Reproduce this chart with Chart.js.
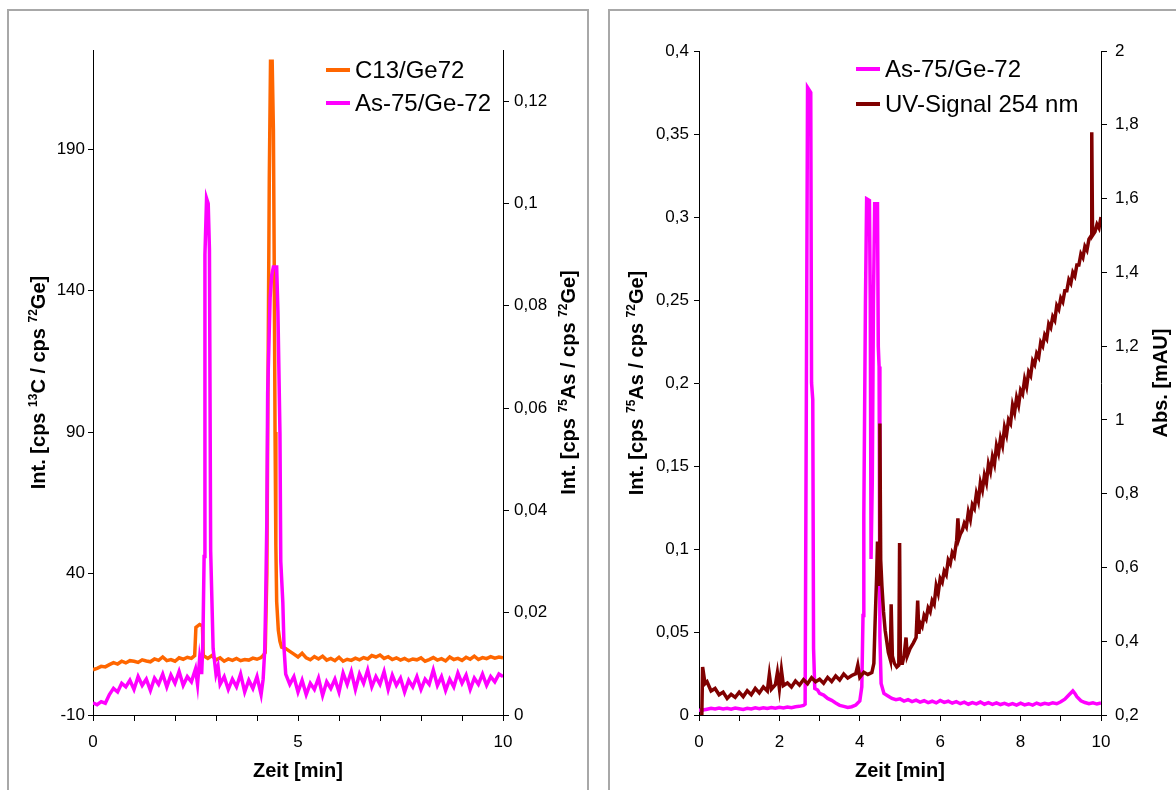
<!DOCTYPE html>
<html>
<head>
<meta charset="utf-8">
<script src="https://cdn.jsdelivr.net/npm/chart.js@4.4.0/dist/chart.umd.min.js"></script>
<style>
  body { margin: 0; background: #fff; width: 1176px; height: 790px; overflow: hidden; position: relative; }
  .panel { position: absolute; border: 2px solid #a8a8a8; box-sizing: border-box; }
  .wrap { position: absolute; top: 0; height: 790px; }
</style>
</head>
<body>
<div class="panel" style="left:7px; top:9px; width:582px; height:800px"></div>
<div class="panel" style="left:608px; top:9px; width:600px; height:800px"></div>
<div class="wrap" style="left:0; width:590px"><canvas id="chartLeft"></canvas></div>
<div class="wrap" style="left:590px; width:586px"><canvas id="chartRight"></canvas></div>
<script>
// left panel: 13C and 75As signals, [time (min), ratio]
const c13Trace = [
  [0, 6.0], [0.1, 6.5], [0.2, 7.2], [0.3, 7.0], [0.4, 7.8], [0.5, 8.5], [0.6, 8.0], [0.7, 9.0], [0.8, 8.4], [0.9, 9.2],
  [1.0, 9.0], [1.1, 8.6], [1.2, 9.5], [1.3, 9.1], [1.4, 8.8], [1.5, 9.8], [1.6, 9.3], [1.7, 10.5], [1.8, 9.2], [1.9, 9.6],
  [2.0, 9.0], [2.1, 10.2], [2.2, 9.7], [2.3, 10.4], [2.4, 10.0], [2.48, 11.0], [2.51, 21.0], [2.6, 22.0], [2.67, 21.5], [2.69, 11.0],
  [2.8, 10.0], [2.9, 11.0], [3.0, 9.5], [3.1, 10.2], [3.2, 9.0], [3.3, 9.8], [3.4, 9.3], [3.5, 10.0], [3.6, 9.2], [3.7, 9.6],
  [3.8, 9.4], [3.9, 10.1], [4.0, 9.7], [4.1, 10.3], [4.15, 11.0], [4.2, 12.0],
  [4.24, 40], [4.27, 110], [4.30, 180], [4.33, 221], [4.37, 221], [4.40, 197], [4.42, 150], [4.44, 90], [4.46, 50], [4.48, 30],
  [4.52, 20], [4.56, 16], [4.6, 14], [4.7, 13.5], [4.8, 12.5], [4.9, 11.5],
  [5.0, 10.5], [5.1, 11.8], [5.2, 10.2], [5.3, 9.5], [5.4, 10.6], [5.5, 9.8], [5.6, 10.8], [5.7, 9.4], [5.8, 10.0], [5.9, 9.2],
  [6.0, 10.4], [6.1, 9.0], [6.2, 9.7], [6.3, 9.3], [6.4, 10.1], [6.5, 9.5], [6.6, 10.3], [6.7, 9.8], [6.8, 11.0], [6.9, 10.5],
  [7.0, 11.2], [7.1, 10.0], [7.2, 10.6], [7.3, 9.6], [7.4, 10.2], [7.5, 9.4], [7.6, 10.0], [7.7, 9.2], [7.8, 9.8], [7.9, 9.5],
  [8.0, 10.2], [8.1, 9.0], [8.2, 9.6], [8.3, 10.3], [8.4, 9.4], [8.5, 9.9], [8.6, 9.1], [8.7, 10.5], [8.8, 9.6], [8.9, 10.0],
  [9.0, 9.3], [9.1, 10.4], [9.2, 9.7], [9.3, 10.8], [9.4, 9.6], [9.5, 10.3], [9.6, 9.9], [9.7, 10.6], [9.8, 10.1], [9.9, 10.5], [10.0, 10.2]
];

const asLeftTrace = [
  [0, 0.0024], [0.1, 0.0020], [0.2, 0.0026], [0.3, 0.0023], [0.4, 0.0040], [0.5, 0.0052], [0.6, 0.0045], [0.7, 0.0062], [0.8, 0.0055], [0.9, 0.0068],
  [1.0, 0.0050], [1.1, 0.0075], [1.2, 0.0058], [1.3, 0.0070], [1.4, 0.0048], [1.5, 0.0072], [1.6, 0.0060], [1.7, 0.0080], [1.8, 0.0055], [1.9, 0.0078],
  [2.0, 0.0062], [2.1, 0.0085], [2.2, 0.0058], [2.3, 0.0075], [2.4, 0.0065], [2.5, 0.0090], [2.55, 0.0060], [2.6, 0.0110], [2.65, 0.0080],
  [2.68, 0.014], [2.71, 0.031], [2.73, 0.090], [2.77, 0.101], [2.81, 0.100], [2.84, 0.091], [2.87, 0.032], [2.93, 0.013],
  [3.0, 0.0080], [3.05, 0.0095], [3.1, 0.0060], [3.2, 0.0075], [3.3, 0.0050], [3.4, 0.0070], [3.5, 0.0055], [3.6, 0.0080], [3.7, 0.0045], [3.8, 0.0068],
  [3.9, 0.0052], [4.0, 0.0075], [4.1, 0.0040], [4.15, 0.0070],
  [4.19, 0.013], [4.21, 0.0216], [4.24, 0.038], [4.26, 0.063], [4.32, 0.0816], [4.36, 0.086], [4.40, 0.0876], [4.48, 0.0876], [4.51, 0.079],
  [4.56, 0.055], [4.58, 0.030], [4.63, 0.022], [4.66, 0.013],
  [4.7, 0.0080], [4.8, 0.0060], [4.9, 0.0075], [5.0, 0.0045], [5.1, 0.0068], [5.2, 0.0040], [5.3, 0.0062], [5.4, 0.0050], [5.5, 0.0072], [5.6, 0.0038],
  [5.7, 0.0065], [5.8, 0.0052], [5.9, 0.0070], [6.0, 0.0045], [6.1, 0.0082], [6.2, 0.0060], [6.3, 0.0085], [6.4, 0.0050], [6.5, 0.0080], [6.6, 0.0062],
  [6.7, 0.0088], [6.8, 0.0055], [6.9, 0.0075], [7.0, 0.0060], [7.1, 0.0085], [7.2, 0.0050], [7.3, 0.0078], [7.4, 0.0058], [7.5, 0.0072], [7.6, 0.0045],
  [7.7, 0.0068], [7.8, 0.0055], [7.9, 0.0075], [8.0, 0.0050], [8.1, 0.0070], [8.2, 0.0060], [8.3, 0.0088], [8.4, 0.0058], [8.5, 0.0075], [8.6, 0.0048],
  [8.7, 0.0070], [8.8, 0.0055], [8.9, 0.0082], [9.0, 0.0062], [9.1, 0.0078], [9.2, 0.0050], [9.3, 0.0072], [9.4, 0.0060], [9.5, 0.0080], [9.6, 0.0058],
  [9.7, 0.0075], [9.8, 0.0065], [9.9, 0.0080], [10.0, 0.0075]
];

// right panel: 75As signal and UV absorbance
const asRightTrace = [
  [0, 0.0036], [0.05, 0.0025], [0.1, 0.0030], [0.2, 0.0035], [0.3, 0.0040], [0.4, 0.0036], [0.5, 0.0042], [0.6, 0.0037], [0.7, 0.0041], [0.8, 0.0035],
  [0.9, 0.0042], [1.0, 0.0038], [1.1, 0.0033], [1.2, 0.0040], [1.3, 0.0036], [1.4, 0.0043], [1.5, 0.0038], [1.6, 0.0044], [1.7, 0.0039], [1.8, 0.0045],
  [1.9, 0.0041], [2.0, 0.0046], [2.1, 0.0042], [2.2, 0.0048], [2.3, 0.0044], [2.4, 0.0050], [2.5, 0.0052], [2.6, 0.0058], [2.64, 0.0065],
  [2.67, 0.19], [2.70, 0.378], [2.78, 0.375], [2.80, 0.20], [2.83, 0.19], [2.85, 0.04], [2.88, 0.016],
  [2.95, 0.015], [3.0, 0.013], [3.1, 0.012], [3.2, 0.010], [3.3, 0.0088], [3.4, 0.0072], [3.5, 0.0058], [3.6, 0.0052], [3.7, 0.0046], [3.8, 0.0050],
  [3.9, 0.0060], [4.0, 0.0085], [4.05, 0.017], [4.08, 0.06], [4.1, 0.12], [4.14, 0.248], [4.17, 0.311], [4.24, 0.31], [4.26, 0.25], [4.28, 0.094],
  [4.31, 0.14], [4.34, 0.25], [4.37, 0.308], [4.44, 0.308], [4.46, 0.222], [4.48, 0.21], [4.5, 0.047], [4.53, 0.019], [4.6, 0.013],
  [4.7, 0.0115], [4.8, 0.0100], [4.9, 0.0092], [5.0, 0.0097], [5.1, 0.0084], [5.2, 0.0093], [5.3, 0.0081], [5.4, 0.0090], [5.5, 0.0078], [5.6, 0.0086],
  [5.7, 0.0075], [5.8, 0.0083], [5.9, 0.0073], [6.0, 0.0088], [6.1, 0.0076], [6.2, 0.0083], [6.3, 0.0071], [6.4, 0.0080], [6.5, 0.0068], [6.6, 0.0077],
  [6.7, 0.0065], [6.8, 0.0075], [6.9, 0.0067], [7.0, 0.0078], [7.1, 0.0065], [7.2, 0.0074], [7.3, 0.0064], [7.4, 0.0073], [7.5, 0.0063], [7.6, 0.0070],
  [7.7, 0.0061], [7.8, 0.0069], [7.9, 0.0060], [8.0, 0.0071], [8.1, 0.0061], [8.2, 0.0068], [8.3, 0.0060], [8.4, 0.0072], [8.5, 0.0063], [8.6, 0.0070],
  [8.7, 0.0065], [8.8, 0.0074], [8.9, 0.0068], [9.0, 0.0080], [9.1, 0.0095], [9.2, 0.0120], [9.3, 0.0145], [9.35, 0.0130], [9.4, 0.0110], [9.5, 0.0086],
  [9.6, 0.0075], [9.7, 0.0068], [9.8, 0.0074], [9.9, 0.0066], [10.0, 0.0072]
];

const uvTrace = [
  [0.07, 0.2], [0.09, 0.33], [0.15, 0.285], [0.2, 0.29], [0.3, 0.265], [0.4, 0.272], [0.5, 0.255], [0.6, 0.262], [0.7, 0.245], [0.8, 0.256],
  [0.9, 0.248], [1.0, 0.262], [1.1, 0.25], [1.2, 0.266], [1.3, 0.255], [1.4, 0.272], [1.5, 0.26], [1.6, 0.276], [1.7, 0.265], [1.75, 0.31],
  [1.8, 0.27], [1.9, 0.282], [1.95, 0.315], [2.0, 0.272], [2.05, 0.322], [2.1, 0.28], [2.2, 0.287], [2.3, 0.276], [2.4, 0.292], [2.5, 0.281],
  [2.6, 0.296], [2.7, 0.285], [2.8, 0.301], [2.9, 0.29], [3.0, 0.297], [3.1, 0.286], [3.2, 0.302], [3.3, 0.291], [3.4, 0.306], [3.5, 0.295],
  [3.6, 0.311], [3.7, 0.3], [3.8, 0.307], [3.9, 0.312], [3.95, 0.335], [4.0, 0.302], [4.1, 0.316], [4.2, 0.31], [4.3, 0.315], [4.35, 0.34],
  [4.38, 0.45], [4.42, 0.58], [4.44, 0.67], [4.46, 0.55], [4.48, 0.6], [4.5, 0.99], [4.52, 0.62], [4.55, 0.55], [4.59, 0.48], [4.63, 0.43],
  [4.67, 0.4], [4.71, 0.37], [4.76, 0.35], [4.78, 0.5], [4.81, 0.36], [4.86, 0.34], [4.92, 0.33], [4.97, 0.335], [4.99, 0.666], [5.01, 0.34],
  [5.06, 0.34], [5.1, 0.36], [5.15, 0.41], [5.18, 0.36], [5.25, 0.38], [5.33, 0.395], [5.4, 0.41], [5.44, 0.51], [5.47, 0.42],
  [5.5, 0.45], [5.55, 0.44], [5.6, 0.47], [5.65, 0.46], [5.7, 0.49], [5.75, 0.48], [5.8, 0.51], [5.85, 0.50], [5.9, 0.55], [5.95, 0.53],
  [6.0, 0.57], [6.05, 0.56], [6.1, 0.59], [6.15, 0.58], [6.2, 0.62], [6.25, 0.61], [6.3, 0.64], [6.35, 0.63], [6.41, 0.674], [6.44, 0.733],
  [6.47, 0.68], [6.5, 0.69], [6.55, 0.70], [6.6, 0.72], [6.65, 0.71], [6.7, 0.75], [6.75, 0.73], [6.8, 0.77], [6.85, 0.76], [6.9, 0.80],
  [6.95, 0.78], [7.0, 0.83], [7.05, 0.81], [7.1, 0.85], [7.15, 0.83], [7.2, 0.88], [7.25, 0.86], [7.3, 0.90], [7.35, 0.88], [7.4, 0.93],
  [7.45, 0.91], [7.5, 0.95], [7.55, 0.93], [7.6, 0.98], [7.65, 0.96], [7.7, 1.00], [7.75, 0.99], [7.8, 1.04], [7.85, 1.02], [7.9, 1.06],
  [7.95, 1.04], [8.0, 1.08], [8.05, 1.07], [8.1, 1.11], [8.15, 1.09], [8.2, 1.13], [8.25, 1.12], [8.3, 1.16], [8.35, 1.15], [8.4, 1.18],
  [8.45, 1.17], [8.5, 1.21], [8.55, 1.20], [8.6, 1.23], [8.65, 1.22], [8.7, 1.26], [8.75, 1.25], [8.8, 1.28], [8.85, 1.27], [8.9, 1.31],
  [8.95, 1.30], [9.0, 1.33], [9.05, 1.32], [9.1, 1.35], [9.15, 1.35], [9.2, 1.38], [9.25, 1.37], [9.3, 1.40], [9.35, 1.39], [9.4, 1.42],
  [9.45, 1.42], [9.5, 1.45], [9.55, 1.44], [9.6, 1.47], [9.65, 1.46], [9.7, 1.49], [9.76, 1.5], [9.77, 1.78], [9.79, 1.5], [9.85, 1.51],
  [9.9, 1.53], [9.95, 1.52], [10.0, 1.55]
];

// tick values and labels
const timeTicks = [0, 1, 2, 3, 4, 5, 6, 7, 8, 9, 10];
const leftTimeLabels = [0, 5, 10];
const rightTimeLabels = [0, 2, 4, 6, 8, 10];
const c13Ticks = [-10, 40, 90, 140, 190];
const asLeftTicks = [0, 0.02, 0.04, 0.06, 0.08, 0.1, 0.12];
const asRightTicks = [0, 0.05, 0.1, 0.15, 0.2, 0.25, 0.3, 0.35, 0.4];
const uvTicks = [0.2, 0.4, 0.6, 0.8, 1, 1.2, 1.4, 1.6, 1.8, 2];

const FONT = '"Liberation Sans", Arial, sans-serif';

const toPoints = trace => trace.map(p => ({ x: p[0], y: p[1] }));
const withComma = v => String(v).replace('.', ',');
const setTicks = values => scale => { scale.ticks = values.map(v => ({ value: v })); };

// rotated axis titles (bottom-to-top on both sides) + legend inside the plot
const decor = {
  id: 'decor',
  afterDraw(chart, args, opts) {
    const ctx = chart.ctx;
    const area = chart.chartArea;
    const midY = (area.top + area.bottom) / 2;

    opts.titles.forEach(t => {
      ctx.save();
      ctx.translate(t.x, midY);
      ctx.rotate(-Math.PI / 2);
      ctx.fillStyle = '#000';
      ctx.textBaseline = 'alphabetic';
      let total = 0;
      t.parts.forEach(p => {
        ctx.font = p[1] ? 'bold 12px ' + FONT : 'bold 20px ' + FONT;
        total += ctx.measureText(p[0]).width;
      });
      let x = -total / 2;
      t.parts.forEach(p => {
        ctx.font = p[1] ? 'bold 12px ' + FONT : 'bold 20px ' + FONT;
        ctx.fillText(p[0], x, p[1] ? -1 : 7);
        x += ctx.measureText(p[0]).width;
      });
      ctx.restore();
    });

    const lg = opts.legend;
    ctx.save();
    ctx.font = '24px ' + FONT;
    ctx.textBaseline = 'middle';
    chart.data.datasets.forEach((ds, i) => {
      const y = lg.y + i * lg.gap;
      ctx.strokeStyle = ds.borderColor;
      ctx.lineWidth = 4;
      ctx.beginPath();
      ctx.moveTo(lg.x, y);
      ctx.lineTo(lg.x + 24, y);
      ctx.stroke();
      ctx.fillStyle = '#000';
      ctx.fillText(ds.label, lg.x + 29, y + 1);
    });
    ctx.restore();
  }
};

function yAxis(pos, min, max, ticks, width, tickLen, pad) {
  return {
    type: 'linear',
    position: pos,
    min: min,
    max: max,
    afterBuildTicks: setTicks(ticks),
    afterFit: s => { s.width = width; },
    ticks: { callback: withComma, color: '#000', font: { family: FONT, size: 17 }, padding: pad, autoSkip: false },
    grid: { drawOnChartArea: false, color: '#000', tickLength: tickLen },
    border: { color: '#000', width: 1 }
  };
}

function xAxis(labels) {
  return {
    type: 'linear',
    min: 0,
    max: 10,
    afterBuildTicks: setTicks(timeTicks),
    afterFit: s => { s.height = 75; },
    ticks: {
      callback: v => labels.includes(v) ? String(v) : '',
      color: '#000', font: { family: FONT, size: 17 }, padding: 11, autoSkip: false, maxRotation: 0
    },
    grid: { drawOnChartArea: false, color: '#000', tickLength: 6 },
    border: { color: '#000', width: 1 },
    title: { display: true, text: 'Zeit [min]', color: '#000', font: { family: FONT, size: 20, weight: 'bold' }, padding: { top: 0, bottom: 7 } }
  };
}

function line(label, trace, color, axis, order) {
  return {
    label: label,
    data: toPoints(trace),
    yAxisID: axis,
    order: order,
    borderColor: color,
    borderWidth: 3.5,
    pointRadius: 0,
    tension: 0,
    fill: false
  };
}

new Chart(document.getElementById('chartLeft'), {
  type: 'line',
  data: {
    datasets: [
      line('C13/Ge72', c13Trace, '#ff6600', 'yC', 1),
      line('As-75/Ge-72', asLeftTrace, '#ff00ff', 'yAs', 0)
    ]
  },
  options: {
    animation: false,
    responsive: true,
    maintainAspectRatio: false,
    layout: { padding: { top: 50, left: 0, right: 0, bottom: 0 } },
    scales: {
      x: xAxis(leftTimeLabels),
      yC: yAxis('left', -10, 225, c13Ticks, 93, 5, 3),
      yAs: yAxis('right', 0, 0.13, asLeftTicks, 87, 6, 5)
    },
    plugins: {
      legend: { display: false },
      tooltip: { enabled: false },
      decor: {
        titles: [
          { x: 38, parts: [['Int. [cps ', false], ['13', true], ['C / cps ', false], ['72', true], ['Ge]', false]] },
          { x: 568, parts: [['Int. [cps ', false], ['75', true], ['As / cps ', false], ['72', true], ['Ge]', false]] }
        ],
        legend: { x: 326, y: 70, gap: 33 }
      }
    }
  },
  plugins: [decor]
});

new Chart(document.getElementById('chartRight'), {
  type: 'line',
  data: {
    datasets: [
      line('As-75/Ge-72', asRightTrace, '#ff00ff', 'yAs', 1),
      line('UV-Signal 254 nm', uvTrace, '#800000', 'yUv', 0)
    ]
  },
  options: {
    animation: false,
    responsive: true,
    maintainAspectRatio: false,
    layout: { padding: { top: 51, left: 0, right: 0, bottom: 0 } },
    scales: {
      x: xAxis(rightTimeLabels),
      yAs: yAxis('left', 0, 0.4, asRightTicks, 109, 5, 5),
      yUv: yAxis('right', 0.2, 2, uvTicks, 75, 6, 8)
    },
    plugins: {
      legend: { display: false },
      tooltip: { enabled: false },
      decor: {
        titles: [
          { x: 46, parts: [['Int. [cps ', false], ['75', true], ['As / cps ', false], ['72', true], ['Ge]', false]] },
          { x: 570, parts: [['Abs. [mAU]', false]] }
        ],
        legend: { x: 266, y: 69, gap: 35 }
      }
    }
  },
  plugins: [decor]
});
</script>
</body>
</html>
